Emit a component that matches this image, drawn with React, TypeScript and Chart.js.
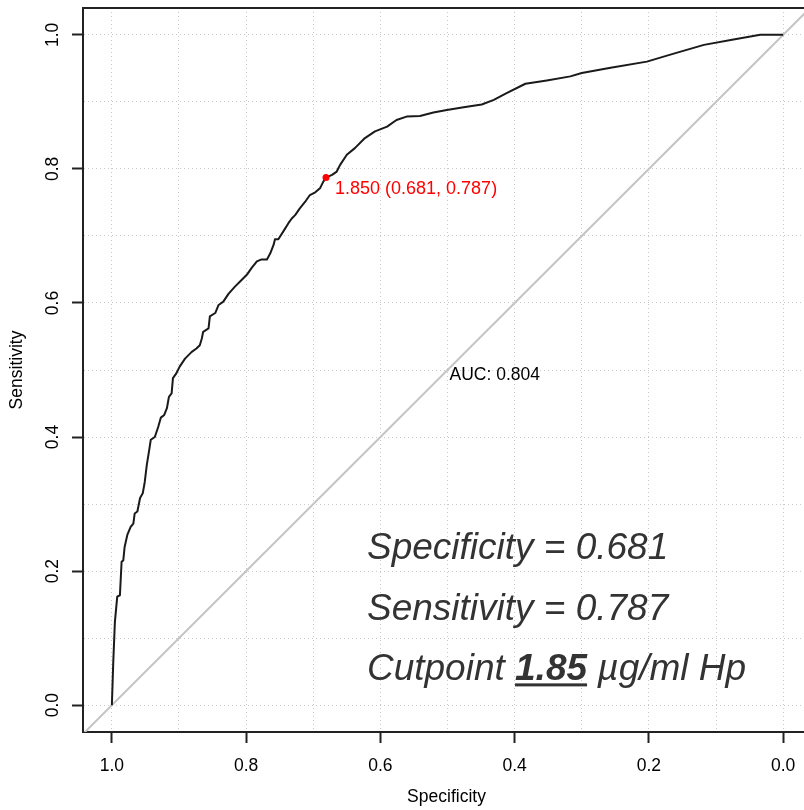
import React, { useEffect, useRef } from 'react';
import { Chart, registerables } from 'chart.js';

Chart.register(...registerables);

// ROC curve (specificity on x, reversed; sensitivity on y)
const specificity = [
  1.0, 0.998, 0.9955, 0.992, 0.988, 0.9855, 0.983, 0.981, 0.977, 0.972,
  0.968, 0.966, 0.962, 0.958, 0.954, 0.951, 0.948, 0.944, 0.942, 0.936,
  0.931, 0.927, 0.922, 0.918, 0.915, 0.911, 0.909, 0.904, 0.899, 0.891,
  0.881, 0.874, 0.869, 0.866, 0.864, 0.856, 0.854, 0.846, 0.841, 0.834,
  0.826, 0.817, 0.809, 0.799, 0.792, 0.784, 0.777, 0.769, 0.764, 0.759,
  0.757, 0.752, 0.745, 0.737, 0.732, 0.727, 0.72, 0.712, 0.705, 0.697,
  0.69, 0.685, 0.681, 0.672, 0.665, 0.66, 0.65, 0.638, 0.623, 0.608,
  0.59, 0.576, 0.561, 0.541, 0.521, 0.501, 0.476, 0.449, 0.431, 0.412,
  0.384, 0.352, 0.317, 0.3, 0.257, 0.203, 0.163, 0.118, 0.074, 0.034, 0.0,
];
const sensitivity = [
  0.0, 0.062, 0.124, 0.162, 0.164, 0.214, 0.216, 0.236, 0.254, 0.266,
  0.271, 0.286, 0.289, 0.309, 0.316, 0.333, 0.358, 0.383, 0.396, 0.4,
  0.415, 0.429, 0.433, 0.443, 0.46, 0.465, 0.488, 0.495, 0.505, 0.517,
  0.527, 0.532, 0.537, 0.547, 0.557, 0.562, 0.58, 0.585, 0.597, 0.602,
  0.614, 0.624, 0.632, 0.642, 0.652, 0.662, 0.665, 0.665, 0.674, 0.687,
  0.695, 0.695, 0.706, 0.719, 0.726, 0.731, 0.741, 0.751, 0.761, 0.765,
  0.771, 0.781, 0.787, 0.791, 0.796, 0.806, 0.821, 0.831, 0.846, 0.856,
  0.863, 0.873, 0.878, 0.879, 0.884, 0.888, 0.892, 0.896, 0.903, 0.913,
  0.927, 0.932, 0.938, 0.943, 0.951, 0.96, 0.972, 0.985, 0.993, 1.0, 1.0,
];

// chance diagonal (clipped by the plot area)
const diagonalSpec = [1.2, -0.2];
const diagonalSens = [-0.2, 1.2];

// best threshold
const bestSpec = [0.681];
const bestSens = [0.787];
const thresholdLabel = '1.850 (0.681, 0.787)';

const aucLabel = 'AUC: 0.804';
const aucPosition = [0.497, 0.492]; // spec, sens (left / middle)

// grid and tick labels
const gridValues = [0, 0.1, 0.2, 0.3, 0.4, 0.5, 0.6, 0.7, 0.8, 0.9, 1.0];
const labelledValues = [0, 0.2, 0.4, 0.6, 0.8, 1.0];
const tickLabels = ['0.0', '0.2', '0.4', '0.6', '0.8', '1.0'];

// summary annotation
const summaryLines = ['Specificity = 0.681', 'Sensitivity = 0.787'];
const cutpointParts = ['Cutpoint ', '1.85', ' µg/ml Hp'];
const summaryX = 0.62;
const summaryY = [0.218, 0.127, 0.037];

const FONT = '"Liberation Sans", Arial, sans-serif';

const labelIndex = (v: number) => labelledValues.findIndex((t) => Math.abs(t - v) < 1e-6);

export default function App() {
  const ref = useRef<HTMLCanvasElement>(null);

  useEffect(() => {
    if (!ref.current) return;

    const annotations = {
      id: 'annotations',
      afterDraw(chart: any) {
        const { ctx, chartArea, scales } = chart;
        const x = scales.x;
        const y = scales.y;
        ctx.save();
        // top and right of the box
        ctx.strokeStyle = '#222';
        ctx.lineWidth = 2;
        ctx.beginPath();
        ctx.moveTo(chartArea.left - 1, chartArea.top);
        ctx.lineTo(chartArea.right, chartArea.top);
        ctx.lineTo(chartArea.right, chartArea.bottom);
        ctx.stroke();

        // threshold label
        const px = x.getPixelForValue(bestSpec[0]);
        const py = y.getPixelForValue(bestSens[0]);
        ctx.font = `18px ${FONT}`;
        ctx.fillStyle = '#ff0000';
        ctx.textAlign = 'left';
        ctx.textBaseline = 'middle';
        ctx.fillText(thresholdLabel, px + 9, py + 11);

        // AUC label
        ctx.font = `17.5px ${FONT}`;
        ctx.fillStyle = '#000';
        ctx.fillText(aucLabel, x.getPixelForValue(aucPosition[0]), y.getPixelForValue(aucPosition[1]));

        // summary block
        const sx = x.getPixelForValue(summaryX);
        ctx.fillStyle = '#333';
        ctx.textBaseline = 'alphabetic';
        ctx.font = `italic 37px ${FONT}`;
        summaryLines.forEach((line, i) => {
          ctx.fillText(line, sx, y.getPixelForValue(summaryY[i]));
        });
        const by = y.getPixelForValue(summaryY[2]);
        let cx = sx;
        ctx.font = `italic 37px ${FONT}`;
        ctx.fillText(cutpointParts[0], cx, by);
        cx += ctx.measureText(cutpointParts[0]).width;
        ctx.font = `italic bold 37px ${FONT}`;
        ctx.fillText(cutpointParts[1], cx, by);
        const bw = ctx.measureText(cutpointParts[1]).width;
        ctx.fillRect(cx, by + 3, bw, 3);
        cx += bw;
        ctx.font = `italic 37px ${FONT}`;
        ctx.fillText(cutpointParts[2], cx, by);
        ctx.restore();
      },
    };

    const tickOpts = {
      autoSkip: false,
      color: '#000',
      font: { family: FONT, size: 17.5 },
      callback: (v: number) => {
        const i = labelIndex(Number(v));
        return i >= 0 ? tickLabels[i] : '';
      },
    };
    const gridOpts = {
      color: '#c8c8c8',
      lineWidth: 1,
      tickLength: 11,
      tickWidth: 2,
      tickColor: (c: any) => (c.tick && labelIndex(c.tick.value) >= 0 ? '#222' : 'rgba(0,0,0,0)'),
    };
    const noPadding = (s: any) => {
      s.paddingTop = 0;
      s.paddingBottom = 0;
      s.paddingLeft = 0;
      s.paddingRight = 0;
    };

    const chart = new Chart(ref.current, {
      type: 'scatter',
      data: {
        datasets: [
          {
            label: 'threshold',
            data: bestSpec.map((s, i) => ({ x: s, y: bestSens[i] })),
            pointRadius: 3.5,
            pointBackgroundColor: '#ff0000',
            pointBorderWidth: 0,
            showLine: false,
            order: 0,
          },
          {
            label: 'ROC',
            data: specificity.map((s, i) => ({ x: s, y: sensitivity[i] })),
            showLine: true,
            borderColor: '#1a1a1a',
            borderWidth: 2,
            pointRadius: 0,
            tension: 0,
            borderJoinStyle: 'round',
            order: 1,
          },
          {
            label: 'chance',
            data: diagonalSpec.map((s, i) => ({ x: s, y: diagonalSens[i] })),
            showLine: true,
            borderColor: '#c4c4c4',
            borderWidth: 2,
            pointRadius: 0,
            order: 2,
          },
        ],
      },
      options: {
        responsive: false,
        animation: false,
        events: [],
        layout: { padding: { top: 8, left: 0, right: 0, bottom: 0 } },
        plugins: { legend: { display: false }, tooltip: { enabled: false } },
        scales: {
          x: {
            type: 'linear',
            reverse: true,
            min: -0.04,
            max: 1.043,
            afterBuildTicks: (s: any) => {
              s.ticks = gridValues.map((v) => ({ value: v }));
            },
            afterFit: (s: any) => {
              s.height = 78;
              noPadding(s);
            },
            ticks: { ...tickOpts, maxRotation: 0, minRotation: 0, padding: 13 },
            grid: gridOpts,
            border: { display: true, color: '#222', width: 2, dash: [1, 3] },
            title: {
              display: true,
              text: 'Specificity',
              color: '#000',
              font: { family: FONT, size: 17.5 },
              padding: { top: 0, bottom: 2 },
            },
          },
          y: {
            type: 'linear',
            min: -0.04,
            max: 1.04,
            afterBuildTicks: (s: any) => {
              s.ticks = gridValues.map((v) => ({ value: v }));
            },
            afterFit: (s: any) => {
              s.width = 83;
              noPadding(s);
            },
            ticks: { ...tickOpts, minRotation: 90, maxRotation: 90, crossAlign: 'center', padding: 7 },
            grid: gridOpts,
            border: { display: true, color: '#222', width: 2, dash: [1, 3] },
            title: {
              display: true,
              text: 'Sensitivity',
              color: '#000',
              font: { family: FONT, size: 17.5 },
              padding: { top: 6.5, bottom: 0 },
            },
          },
        },
      },
      plugins: [annotations],
    } as any);

    return () => chart.destroy();
  }, []);

  return (
    <div
      style={{
        position: 'absolute',
        left: 0,
        top: 0,
        width: 804,
        height: 810,
        overflow: 'hidden',
        background: '#fff',
      }}
    >
      <canvas ref={ref} width={814} height={810} style={{ display: 'block' }} />
    </div>
  );
}
